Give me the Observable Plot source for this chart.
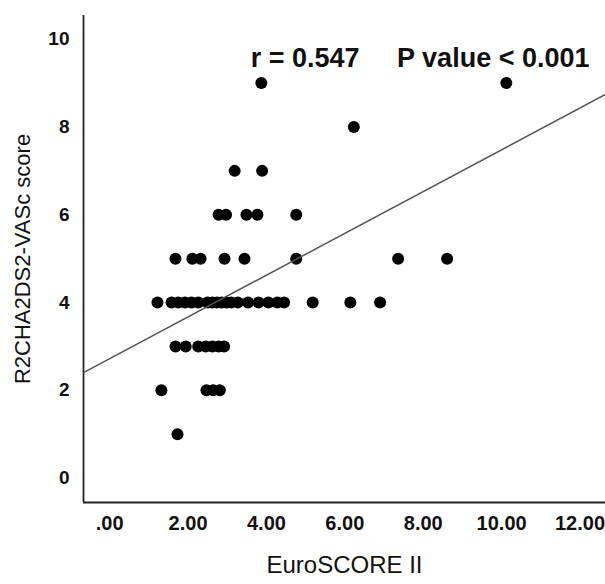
<!DOCTYPE html>
<html><head><meta charset="utf-8">
<script src="https://cdn.jsdelivr.net/npm/d3@7"></script>
<script src="https://cdn.jsdelivr.net/npm/@observablehq/plot@0.6"></script>
<style>body{margin:0;background:#fff}</style>
</head><body><div id="chart"></div>
<script>
// EuroSCORE II (x) and R2CHA2DS2-VASc score (y), one entry per patient
const euroScore = [
  3.87, 10.12,
  6.23,
  3.19, 3.89,
  2.78, 2.97, 3.49, 3.77, 4.76,
  1.68, 2.11, 2.32, 2.93, 3.44, 4.76, 7.36, 8.61,
  1.22, 1.58, 1.75, 1.92, 2.09, 2.26, 2.50, 2.62, 2.74, 2.86, 2.98, 3.10, 3.27, 3.53, 3.80, 4.05, 4.28, 4.45, 5.18, 6.14, 6.90,
  1.68, 1.94, 2.26, 2.45, 2.62, 2.78, 2.92,
  1.32, 2.47, 2.64, 2.81,
  1.73
];
const r2Score = [
  9, 9,
  8,
  7, 7,
  6, 6, 6, 6, 6,
  5, 5, 5, 5, 5, 5, 5, 5,
  4, 4, 4, 4, 4, 4, 4, 4, 4, 4, 4, 4, 4, 4, 4, 4, 4, 4, 4, 4, 4,
  3, 3, 3, 3, 3, 3, 3,
  2, 2, 2, 2,
  1
];
const xTicks = [0, 2, 4, 6, 8, 10, 12];
const xTickLabels = [".00", "2.00", "4.00", "6.00", "8.00", "10.00", "12.00"];
const yTicks = [0, 2, 4, 6, 8, 10];
const yTickLabels = ["0", "2", "4", "6", "8", "10"];
const fit = {intercept: 2.72, slope: 0.476};
const annotation = "r = 0.547     P value < 0.001";
const xTitle = "EuroSCORE II";
const yTitle = "R2CHA2DS2-VASc score";
const xDomain = [-0.667, 12.65];
const yDomain = [-0.556, 10.54];

const points = euroScore.map((x, i) => ({x, y: r2Score[i]}));
const fitLine = xDomain.map(x => ({x, y: fit.intercept + fit.slope * x}));

const chart = Plot.plot({
  width: 605, height: 584,
  marginLeft: 83, marginRight: 0, marginTop: 15, marginBottom: 82,
  x: {domain: xDomain},
  y: {domain: yDomain},
  style: {fontFamily: "'Liberation Sans', Arial, sans-serif", background: "#fff", color: "#111"},
  marks: [
    Plot.axisX({ticks: xTicks, tickFormat: d => xTickLabels[xTicks.indexOf(d)], tickSize: 0, tickPadding: 13,
      fontSize: 20, fontWeight: "bold", label: null}),
    Plot.axisY({ticks: yTicks, tickFormat: d => yTickLabels[yTicks.indexOf(d)], tickSize: 0, tickPadding: 14,
      fontSize: 19, fontWeight: "bold", label: null}),
    Plot.ruleX([xDomain[0]], {stroke: "#222", strokeWidth: 1.8}),
    Plot.ruleY([yDomain[0]], {stroke: "#222", strokeWidth: 1.8}),
    Plot.dot(points, {x: "x", y: "y", r: 6, fill: "#000", stroke: "none"}),
    Plot.line(fitLine, {x: "x", y: "y", stroke: "#555", strokeWidth: 1.5}),
    Plot.text([annotation], {frameAnchor: "top-right", dx: -16, dy: 43, textAnchor: "end", lineAnchor: "middle", fontSize: 27, fontWeight: "bold", fill: "#111"}),
    Plot.text([xTitle], {frameAnchor: "bottom", dy: 63, textAnchor: "middle", lineAnchor: "middle", fontSize: 24, fill: "#111"}),
    Plot.text([yTitle], {frameAnchor: "left", dx: -61, rotate: -90, textAnchor: "middle", lineAnchor: "middle", fontSize: 22, fill: "#111"})
  ]
});
document.getElementById("chart").appendChild(chart);
</script>
</body></html>
